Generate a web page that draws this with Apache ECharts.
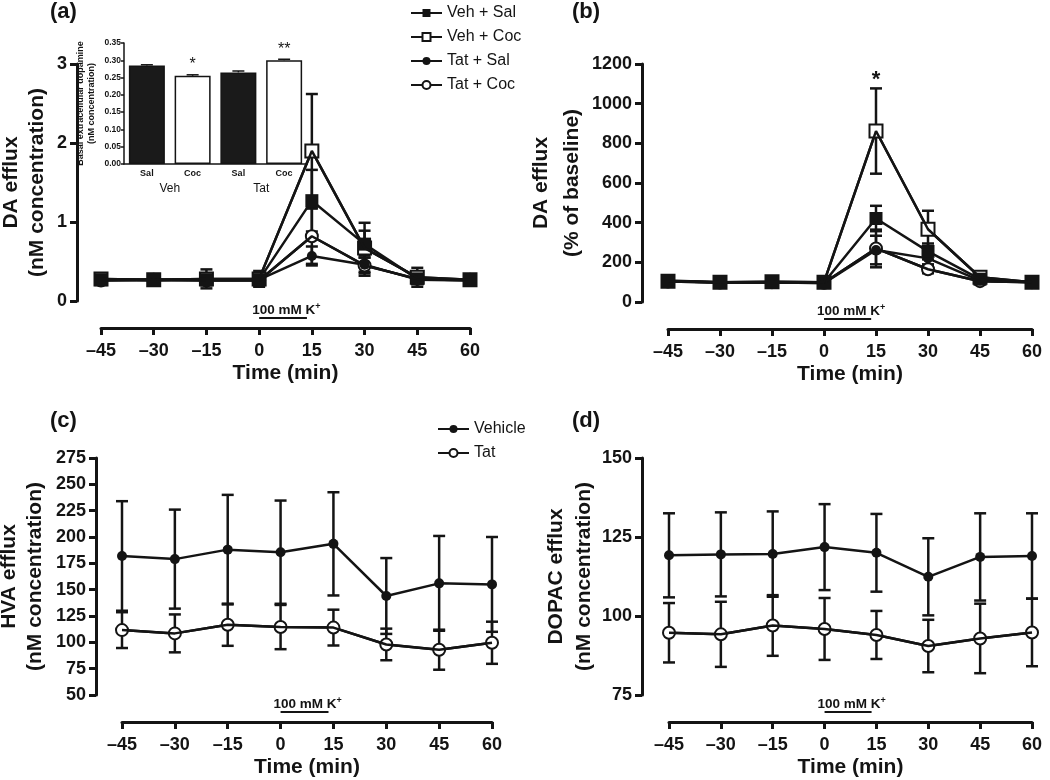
<!DOCTYPE html>
<html><head><meta charset="utf-8">
<script src="https://cdn.jsdelivr.net/npm/echarts@6/dist/echarts.min.js"></script>
<style>html,body{margin:0;padding:0;background:#fff}#c{width:1050px;height:780px}</style>
</head><body><div id="c"></div>
<script>
// ---------------- data ----------------
const timePoints = [-45, -30, -15, 0, 15, 30, 45, 60];
const kPulse = [0, 13.6];           // 100 mM K+ stimulation period (min)
const kLabel = '100 mM K+';

// (a) DA efflux, nM
const vehSalA = [0.27, 0.26, 0.27, 0.27, 1.27, 0.72, 0.28, 0.26];
const vehSalAErr = [0.05, 0.06, 0.06, 0.05, 0.39, 0.17, 0.06, 0.04];
const vehCocA = [0.28, 0.27, 0.28, 0.28, 1.90, 0.67, 0.30, 0.27];
const vehCocAErr = [0.05, 0.07, 0.12, 0.10, 0.72, 0.32, 0.12, 0.05];
const tatSalA = [0.27, 0.27, 0.27, 0.27, 0.57, 0.46, 0.27, 0.26];
const tatSalAErr = [0.04, 0.05, 0.05, 0.05, 0.12, 0.09, 0.05, 0.04];
const tatCocA = [0.26, 0.27, 0.26, 0.26, 0.82, 0.45, 0.28, 0.27];
const tatCocAErr = [0.04, 0.05, 0.06, 0.06, 0.35, 0.13, 0.06, 0.04];

// (b) DA efflux, % of baseline
const vehSalB = [108, 100, 100, 98, 421, 255, 115, 100];
const vehSalBErr = [8, 6, 8, 10, 64, 40, 12, 6];
const vehCocB = [105, 100, 102, 100, 862, 367, 125, 100];
const vehCocBErr = [10, 8, 10, 12, 215, 93, 15, 8];
const vehCocBSig = ['', '', '', '', '*', '', '', ''];
const tatSalB = [105, 100, 100, 95, 262, 220, 108, 100];
const tatSalBErr = [8, 6, 8, 10, 72, 30, 10, 6];
const tatCocB = [103, 98, 100, 97, 270, 165, 105, 100];
const tatCocBErr = [8, 6, 8, 10, 95, 20, 10, 6];

// (c) HVA efflux, nM
const vehHVA = [182, 179, 188, 185.6, 193.5, 144, 156, 155];
const vehHVAErr = [52, 47, 52, 49, 49, 36, 45, 45];
const tatHVA = [111.6, 108.5, 116.7, 114.5, 114, 98, 93, 99.6];
const tatHVAErr = [17, 18, 20, 21, 17, 15, 19, 20];

// (d) DOPAC efflux, nM
const vehDOPAC = [119.2, 119.5, 119.6, 121.8, 120, 112.4, 118.7, 119];
const vehDOPACErr = [13.3, 13.3, 13.5, 13.6, 12.3, 12.2, 13.8, 13.5];
const tatDOPAC = [94.7, 94.2, 97, 95.9, 94, 90.5, 92.9, 94.8];
const tatDOPACErr = [9.4, 10.3, 9.6, 9.8, 7.6, 8.3, 11, 10.7];

// inset: basal extracellular dopamine
const insetCats = ['Sal', 'Coc', 'Sal', 'Coc'];
const insetGroups = ['Veh', 'Tat'];
const insetValues = [0.285, 0.255, 0.265, 0.300];
const insetErr = [0.002, 0.003, 0.004, 0.003];
const insetSig = ['', '*', '', '**'];
const insetFilled = [true, false, true, false];

const legendA = ['Veh + Sal', 'Veh + Coc', 'Tat + Sal', 'Tat + Coc'];
const legendC = ['Vehicle', 'Tat'];

// ---------------- chart ----------------
const FONT = '"Liberation Sans", Arial, Helvetica, sans-serif';
const INK = '#141414';
const chart = echarts.init(document.getElementById('c'));

function minusFmt(v) { return v < 0 ? '\u2013' + Math.abs(v) : String(v); }

const panels = [
  { label: '(a)', lx: 50, ly: 1, grid: { left: 101, top: 64, width: 369, height: 237 },
    y: { min: 0, max: 3, interval: 1, offset: 24, name: 'DA efflux\n(nM concentration)', gap: 27, lh: 26 } },
  { label: '(b)', lx: 572, ly: 1, grid: { left: 668, top: 64, width: 364, height: 238 },
    y: { min: 0, max: 1200, interval: 200, offset: 26, name: 'DA efflux\n(% of baseline)', gap: 47, lh: 31 } },
  { label: '(c)', lx: 50, ly: 410, grid: { left: 122, top: 458, width: 370, height: 237 },
    y: { min: 50, max: 275, interval: 25, offset: 26, name: 'HVA efflux\n(nM concentration)', gap: 48, lh: 26 } },
  { label: '(d)', lx: 572, ly: 410, grid: { left: 669, top: 458, width: 363, height: 237 },
    y: { min: 75, max: 150, interval: 25, offset: 27, name: 'DOPAC efflux\n(nM concentration)', gap: 40, lh: 28 } }
];

const grids = panels.map(p => Object.assign({ outerBoundsMode: 'none', containLabel: false }, p.grid));
grids.push({ left: 124, top: 43, width: 183, height: 121, outerBoundsMode: 'none', containLabel: false });

const xAxes = panels.map((p, i) => ({
  type: 'value', gridIndex: i, min: -45, max: 60, interval: 15, offset: 27, position: 'bottom',
  axisLine: { show: true, onZero: false, lineStyle: { color: INK, width: 3 } },
  axisTick: { show: true, length: 7, lineStyle: { color: INK, width: 3 } },
  axisLabel: { color: INK, fontSize: 18, fontWeight: 'bold', fontFamily: FONT, margin: 14, formatter: minusFmt },
  splitLine: { show: false },
  name: 'Time (min)', nameLocation: 'middle', nameGap: 35,
  nameTextStyle: { color: INK, fontSize: 21, fontWeight: 'bold', fontFamily: FONT }
}));
xAxes.push({
  type: 'category', gridIndex: 4, data: insetCats,
  axisLine: { onZero: false, lineStyle: { color: INK, width: 1.5 } },
  axisTick: { alignWithLabel: true, length: 3, lineStyle: { color: INK, width: 1.5 } },
  axisLabel: { color: INK, fontSize: 9, fontWeight: 'bold', fontFamily: FONT, margin: 5 }
});
xAxes.push({
  type: 'category', gridIndex: 4, data: insetGroups, position: 'bottom',
  axisLine: { show: false, onZero: false }, axisTick: { show: false },
  axisLabel: { color: INK, fontSize: 12, fontFamily: FONT, margin: 19 }
});

const yAxes = panels.map((p, i) => ({
  type: 'value', gridIndex: i, min: p.y.min, max: p.y.max, interval: p.y.interval, offset: p.y.offset, position: 'left',
  axisLine: { show: true, onZero: false, lineStyle: { color: INK, width: 3 } },
  axisTick: { show: true, length: 7, lineStyle: { color: INK, width: 3 } },
  axisLabel: { color: INK, fontSize: 18, fontWeight: 'bold', fontFamily: FONT, margin: 10, formatter: v => String(v) },
  splitLine: { show: false },
  name: p.y.name, nameLocation: 'middle', nameRotate: 90, nameGap: p.y.gap,
  nameTextStyle: { color: INK, fontSize: 21, fontWeight: 'bold', fontFamily: FONT, lineHeight: p.y.lh }
}));
yAxes.push({
  type: 'value', gridIndex: 4, min: 0, max: 0.35, interval: 0.05, position: 'left',
  axisLine: { show: true, onZero: false, lineStyle: { color: INK, width: 1.5 } },
  axisTick: { show: true, length: 3, lineStyle: { color: INK, width: 1.5 } },
  axisLabel: { color: INK, fontSize: 8.5, fontWeight: 'bold', fontFamily: FONT, margin: 3, formatter: v => v.toFixed(2) },
  splitLine: { show: false },
  name: 'Basal extracellular dopamine\n(nM concentration)', nameLocation: 'middle', nameRotate: 90, nameGap: 27,
  nameTextStyle: { color: INK, fontSize: 9, fontWeight: 'bold', fontFamily: FONT, lineHeight: 11 }
});

function errorBars(idx, xs, ys, errs, opts) {
  const data = xs.map((x, i) => [x, ys[i], errs[i]]);
  const sig = opts.sig || [];
  return {
    type: 'custom', xAxisIndex: idx, yAxisIndex: opts.yIdx != null ? opts.yIdx : idx,
    silent: true, clip: false, z: 2, animation: false, encode: { x: 0, y: 1 }, data,
    renderItem(params, api) {
      const x = api.value(0), y = api.value(1), e = api.value(2);
      const hi = api.coord([x, y + e]);
      const lo = opts.both ? api.coord([x, y - e]) : api.coord([x, y]);
      const cx = hi[0], h = opts.cap, lw = opts.lw;
      const st = { stroke: INK, lineWidth: lw };
      const ch = [
        { type: 'line', shape: { x1: cx, y1: hi[1], x2: cx, y2: lo[1] }, style: st },
        { type: 'line', shape: { x1: cx - h, y1: hi[1], x2: cx + h, y2: hi[1] }, style: st }
      ];
      if (opts.both) ch.push({ type: 'line', shape: { x1: cx - h, y1: lo[1], x2: cx + h, y2: lo[1] }, style: st });
      const s = sig[params.dataIndex];
      if (s) ch.push({ type: 'text', style: { text: s, x: cx, y: hi[1] - opts.sigGap, align: 'center', verticalAlign: 'middle', fill: INK, font: opts.sigFont } });
      return { type: 'group', children: ch };
    }
  };
}

function lineSeries(name, idx, ys, sym, filled, size) {
  return {
    type: 'line', name, xAxisIndex: idx, yAxisIndex: idx, z: 3, clip: false, animation: false,
    data: timePoints.map((t, i) => [t, ys[i]]),
    symbol: sym, symbolSize: size, showSymbol: true,
    lineStyle: { color: INK, width: 2.5 },
    itemStyle: { color: filled ? INK : '#ffffff', borderColor: INK, borderWidth: filled ? 0 : 2, opacity: 1 },
    emphasis: { disabled: true }
  };
}
function overlayLine(idx, ys) {
  return {
    type: 'line', name: '_overlay', xAxisIndex: idx, yAxisIndex: idx, z: 4, clip: false, silent: true, animation: false,
    data: timePoints.map((t, i) => [t, ys[i]]), symbol: 'none',
    lineStyle: { color: INK, width: 2.5 }, emphasis: { disabled: true }
  };
}
function kSeries(idx) {
  const yMin = panels[idx].y.min;
  return {
    type: 'custom', xAxisIndex: idx, yAxisIndex: idx, silent: true, clip: false, z: 2, animation: false,
    data: [[kPulse[0], kPulse[1], yMin]], encode: { x: [0, 1], y: 2 },
    renderItem(params, api) {
      const a = api.coord([api.value(0), api.value(2)]);
      const b = api.coord([api.value(1), api.value(2)]);
      const parts = kLabel.split('+');
      return { type: 'group', children: [
        { type: 'line', shape: { x1: a[0], y1: a[1] + 17, x2: b[0], y2: a[1] + 17 }, style: { stroke: INK, lineWidth: 2 } },
        { type: 'text', style: { text: '{n|' + parts[0] + '}{s|+}', x: a[0] - 7, y: a[1] + 9, verticalAlign: 'middle',
          rich: { n: { fontSize: 13.5, fontWeight: 'bold', fontFamily: FONT, fill: INK },
                  s: { fontSize: 9, fontWeight: 'bold', fontFamily: FONT, fill: INK, padding: [0, 0, 7, 0] } } } }
      ] };
    }
  };
}

const series = [];
const ebMain = { cap: 6, lw: 2.5, both: true, sigGap: 8, sigFont: 'bold 22px ' + FONT };
// (a)
series.push(errorBars(0, timePoints, tatCocA, tatCocAErr, ebMain));
series.push(errorBars(0, timePoints, tatSalA, tatSalAErr, ebMain));
series.push(errorBars(0, timePoints, vehCocA, vehCocAErr, ebMain));
series.push(errorBars(0, timePoints, vehSalA, vehSalAErr, ebMain));
series.push(lineSeries('Tat + Coc', 0, tatCocA, 'circle', false, 12));
series.push(lineSeries('Tat + Sal', 0, tatSalA, 'circle', true, 10));
series.push(lineSeries('Veh + Coc', 0, vehCocA, 'rect', false, 13));
series.push(lineSeries('Veh + Sal', 0, vehSalA, 'rect', true, 13));
series.push(overlayLine(0, tatCocA));
series.push(overlayLine(0, vehCocA));
series.push(kSeries(0));
// (b)
series.push(errorBars(1, timePoints, tatCocB, tatCocBErr, ebMain));
series.push(errorBars(1, timePoints, tatSalB, tatSalBErr, ebMain));
series.push(errorBars(1, timePoints, vehCocB, vehCocBErr, Object.assign({ sig: vehCocBSig }, ebMain)));
series.push(errorBars(1, timePoints, vehSalB, vehSalBErr, ebMain));
series.push(lineSeries('Tat + Coc', 1, tatCocB, 'circle', false, 12));
series.push(lineSeries('Tat + Sal', 1, tatSalB, 'circle', true, 10));
series.push(lineSeries('Veh + Coc', 1, vehCocB, 'rect', false, 13));
series.push(lineSeries('Veh + Sal', 1, vehSalB, 'rect', true, 13));
series.push(overlayLine(1, tatCocB));
series.push(overlayLine(1, vehCocB));
series.push(kSeries(1));
// (c)
series.push(errorBars(2, timePoints, vehHVA, vehHVAErr, ebMain));
series.push(errorBars(2, timePoints, tatHVA, tatHVAErr, ebMain));
series.push(lineSeries('Vehicle', 2, vehHVA, 'circle', true, 10));
series.push(lineSeries('Tat', 2, tatHVA, 'circle', false, 12));
series.push(overlayLine(2, tatHVA));
series.push(kSeries(2));
// (d)
series.push(errorBars(3, timePoints, vehDOPAC, vehDOPACErr, ebMain));
series.push(errorBars(3, timePoints, tatDOPAC, tatDOPACErr, ebMain));
series.push(lineSeries('Vehicle', 3, vehDOPAC, 'circle', true, 10));
series.push(lineSeries('Tat', 3, tatDOPAC, 'circle', false, 12));
series.push(overlayLine(3, tatDOPAC));
series.push(kSeries(3));
// inset bars
series.push({
  type: 'bar', name: 'Basal', xAxisIndex: 4, yAxisIndex: 4, barWidth: 36, z: 2, animation: false, silent: true,
  data: insetValues.map((v, i) => ({ value: v, itemStyle: { color: insetFilled[i] ? '#1a1a1a' : '#ffffff', borderColor: INK, borderWidth: 1.5 } }))
});
series.push(errorBars(4, insetCats.map((c, i) => i), insetValues, insetErr,
  { yIdx: 4, cap: 6, lw: 1.5, both: false, sig: insetSig, sigGap: 10, sigFont: '16px ' + FONT }));

const option = {
  backgroundColor: '#ffffff',
  animation: false,
  textStyle: { fontFamily: FONT },
  title: panels.map(p => ({ text: p.label, left: p.lx, top: p.ly, padding: 0,
    textStyle: { color: INK, fontSize: 22, fontWeight: 'bold', fontFamily: FONT } })),
  legend: [
    { data: legendA, orient: 'vertical', left: 410, top: 5, itemWidth: 31, itemHeight: 10, itemGap: 8,
      selectedMode: false, textStyle: { color: INK, fontSize: 16, fontFamily: FONT }, padding: 0 },
    { data: legendC, orient: 'vertical', left: 437, top: 421, itemWidth: 31, itemHeight: 10, itemGap: 8,
      selectedMode: false, textStyle: { color: INK, fontSize: 16, fontFamily: FONT }, padding: 0 }
  ],
  grid: grids,
  xAxis: xAxes,
  yAxis: yAxes,
  series
};
chart.setOption(option);
</script>
</body></html>
